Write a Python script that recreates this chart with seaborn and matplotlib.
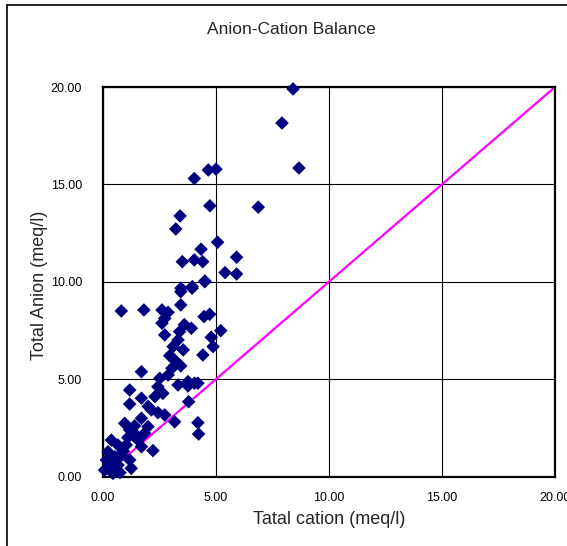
import matplotlib
matplotlib.use("Agg")
import matplotlib.pyplot as plt
from matplotlib.lines import Line2D
import seaborn as sns
import pandas as pd

# Data
cation = [8.41, 7.92, 8.67, 4.04, 4.66, 5.00, 4.73, 6.87, 3.41, 3.22,
          5.07, 4.34, 3.51, 4.04, 4.41, 5.91, 5.40, 5.91, 4.51, 3.45,
          3.95, 0.81, 1.81, 2.61, 2.88, 3.44, 3.94, 4.50, 3.44, 2.61,
          2.73, 4.47, 4.72, 3.91, 3.39, 2.73, 3.32, 5.21, 4.79, 4.87,
          4.42, 3.10, 3.17, 3.44, 3.05, 1.70, 2.88, 2.51, 3.76, 4.20,
          1.18, 1.70, 1.18, 2.43, 2.65, 3.32, 3.76, 3.79, 4.05, 2.14,
          2.43, 2.73, 3.17, 1.70, 0.96, 1.18, 1.47, 1.84, 1.99, 4.20,
          4.23, 2.21, 0.37, 0.66, 1.03, 1.55, 1.70, 0.22, 0.52, 0.15,
          0.81, 1.18, 1.25, 0.44, 0.30, 0.66, 0.07, 2.95, 3.60, 1.40,
          0.90, 0.55, 1.10, 2.00, 2.30, 3.55, 0.35, 0.75]
anion = [19.90, 18.15, 15.84, 15.30, 15.74, 15.78, 13.90, 13.83, 13.38, 12.71,
         12.03, 11.67, 11.03, 11.12, 11.03, 11.26, 10.47, 10.40, 10.04, 9.67,
         9.75, 8.50, 8.55, 8.55, 8.43, 9.49, 9.67, 10.00, 8.81, 7.87,
         8.12, 8.21, 8.33, 7.61, 7.44, 7.27, 7.01, 7.49, 7.15, 6.67,
         6.24, 6.67, 5.98, 5.68, 5.56, 5.38, 5.21, 5.04, 4.87, 4.79,
         4.44, 4.02, 3.72, 4.61, 4.27, 4.70, 4.65, 3.84, 4.79, 3.42,
         3.28, 3.16, 2.81, 2.99, 2.73, 2.39, 2.13, 2.22, 2.56, 2.76,
         2.18, 1.33, 1.87, 1.62, 1.62, 1.87, 1.53, 1.27, 1.02, 0.85,
         1.10, 0.85, 0.42, 0.16, 0.50, 0.59, 0.33, 6.20, 7.80, 2.60,
         1.30, 0.70, 2.00, 3.60, 4.10, 6.50, 0.40, 0.20]
line_x = [0.0, 20.0]
line_y = [0.0, 20.0]
ticks = [0, 5, 10, 15, 20]
tick_labels = ["0.00", "5.00", "10.00", "15.00", "20.00"]

df = pd.DataFrame({"cation": cation, "anion": anion})
ldf = pd.DataFrame({"x": line_x, "y": line_y})

sns.set_style("white")
plt.rcParams["font.family"] = ["Liberation Sans", "DejaVu Sans"]

W, H = 567, 546
fig = plt.figure(figsize=(W / 100, H / 100), dpi=100)
fig.patch.set_facecolor("white")
ax = fig.add_axes([103 / W, 1 - 476.5 / H, 452 / W, 389.5 / H])

sns.lineplot(data=ldf, x="x", y="y", ax=ax, color="#FF00FF", linewidth=1.6, zorder=2)
sns.scatterplot(data=df, x="cation", y="anion", ax=ax, marker="D", s=48,
                color="#000080", edgecolor="none", linewidth=0, zorder=3, clip_on=False)

ax.set_xlim(0, 20)
ax.set_ylim(0, 20)
ax.set_xticks(ticks)
ax.set_yticks(ticks)
ax.set_xticklabels(tick_labels)
ax.set_yticklabels(tick_labels)
ax.tick_params(axis="both", length=0, labelsize=9, colors="black")
ax.tick_params(axis="x", pad=11)
ax.tick_params(axis="y", pad=15)
ax.grid(True, color="black", linewidth=0.8)
ax.set_axisbelow(True)
for sp in ax.spines.values():
    sp.set_visible(True)
    sp.set_color("black")
    sp.set_linewidth(1.6)
ax.set_xlabel("")
ax.set_ylabel("")

fig.text(291 / W, 1 - 30 / H, "Anion-Cation Balance", ha="center", va="center", fontsize=12.5)
fig.text(329 / W, 1 - 520 / H, "Tatal cation (meq/l)", ha="center", va="center", fontsize=13)
fig.text(40 / W, 1 - 285 / H, "Total Anion (meq/l)", ha="center", va="center",
         rotation=90, fontsize=13)

# outer chart frame (top and left edges visible)
fig.add_artist(Line2D([7 / W, 7 / W], [0, 1 - 5 / H], transform=fig.transFigure,
                      color="black", linewidth=1.2))
fig.add_artist(Line2D([7 / W, 1], [1 - 5 / H, 1 - 5 / H], transform=fig.transFigure,
                      color="black", linewidth=1.2))

fig.savefig("out.png", dpi=100, facecolor="white")
